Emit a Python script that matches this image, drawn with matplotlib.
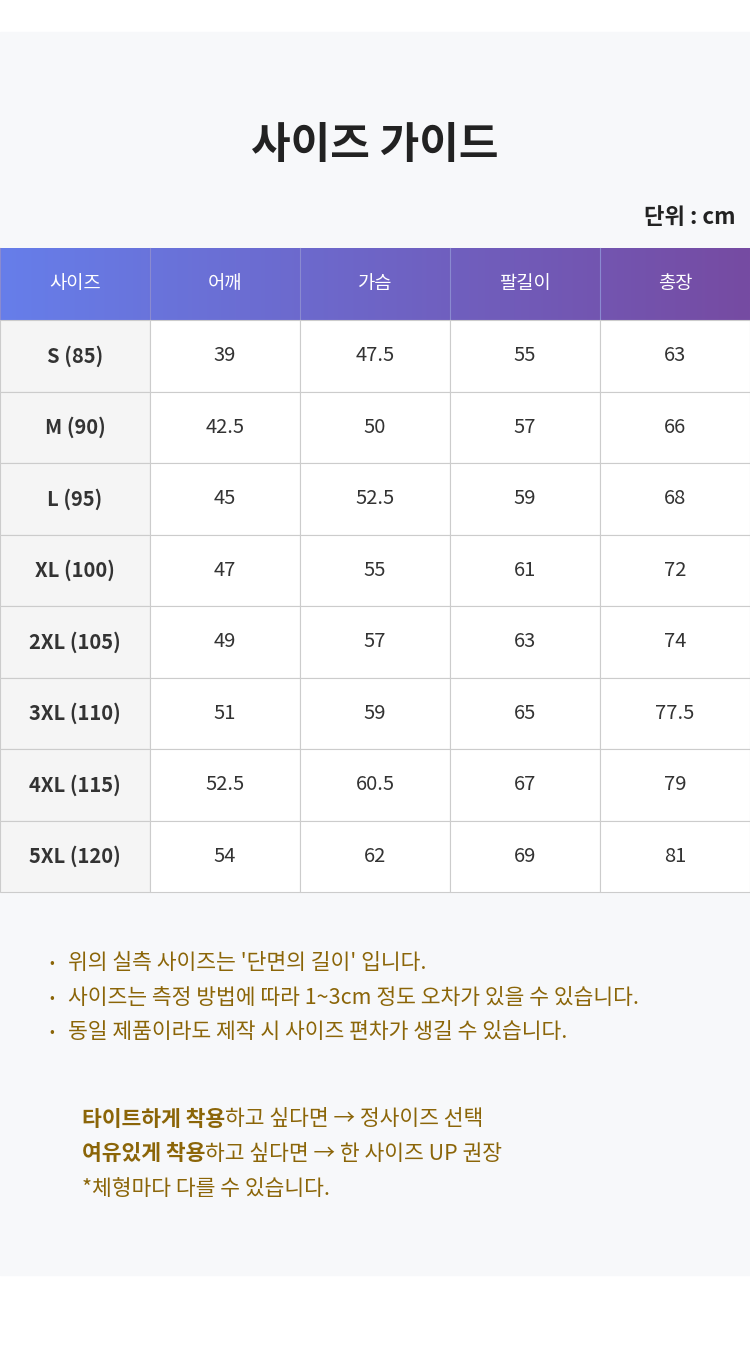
import numpy as np
import matplotlib.pyplot as plt
from matplotlib.colors import LinearSegmentedColormap

plt.rcParams['font.family'] = ['Noto Sans CJK KR', 'DejaVu Sans']

headers = ['사이즈', '어깨', '가슴', '팔길이', '총장']
sizes = ['S (85)', 'M (90)', 'L (95)', 'XL (100)', '2XL (105)', '3XL (110)', '4XL (115)', '5XL (120)']
shoulder = ['39', '42.5', '45', '47', '49', '51', '52.5', '54']
chest = ['47.5', '50', '52.5', '55', '57', '59', '60.5', '62']
sleeve = ['55', '57', '59', '61', '63', '65', '67', '69']
length = ['63', '66', '68', '72', '74', '77.5', '79', '81']
notes = ["위의 실측 사이즈는 '단면의 길이' 입니다.",
         "사이즈는 측정 방법에 따라 1~3cm 정도 오차가 있을 수 있습니다.",
         "동일 제품이라도 제작 시 사이즈 편차가 생길 수 있습니다."]

W, H = 750, 1360
fig = plt.figure(figsize=(7.5, 13.6), dpi=100)
ax = fig.add_axes([0, 0, 1, 1])
ax.set_xlim(0, W)
ax.set_ylim(H, 0)
ax.axis('off')

ax.add_patch(plt.Rectangle((0, 32), W, 1243, color='#f7f8fa', zorder=0))
ax.text(375, 145, '사이즈 가이드', ha='center', va='center', fontsize=31, fontweight='bold', color='#222222')
ax.text(735, 218, '단위 : cm', ha='right', va='center', fontsize=16, fontweight='bold', color='#222222')

top, hh, rh, cw = 248, 72, 71.5, 150
cmap = LinearSegmentedColormap.from_list('g', ['#667eea', '#764ba2'])
ax.imshow(np.linspace(0, 1, 256)[None, :], cmap=cmap, aspect='auto',
          extent=(0, W, top + hh, top), zorder=1)
for j, h in enumerate(headers):
    ax.text(cw * j + cw / 2, top + hh / 2, h, ha='center', va='center', fontsize=13.5, color='white', zorder=3)
    ax.plot([cw * j, cw * j], [top, top + hh], color='#8a8ad0', lw=0.8, zorder=2)

cols = [sizes, shoulder, chest, sleeve, length]
body = top + hh
for i in range(len(sizes)):
    y0 = body + i * rh
    for j, col in enumerate(cols):
        fc = '#f5f5f5' if j == 0 else 'white'
        ax.add_patch(plt.Rectangle((cw * j, y0), cw, rh, facecolor=fc, edgecolor='#cccccc', lw=0.8, zorder=2))
        ax.text(cw * j + cw / 2, y0 + rh / 2, col[i], ha='center', va='center', fontsize=14.5,
                fontweight='bold' if j == 0 else 'normal', color='#333333', zorder=3)

nc = '#8b6508'
for k, n in enumerate(notes):
    y = 963 + k * 34.5
    ax.text(52, y, '•', ha='center', va='center', fontsize=10, color=nc)
    ax.text(68, y, n, ha='left', va='center', fontsize=15.5, color=nc)

tips = [('타이트하게 착용', '하고 싶다면 → 정사이즈 선택'),
        ('여유있게 착용', '하고 싶다면 → 한 사이즈 UP 권장')]
fig.canvas.draw()
r = fig.canvas.get_renderer()
for k, (b, t) in enumerate(tips):
    y = 1119 + k * 35
    tb = ax.text(82, y, b, ha='left', va='center', fontsize=15.5, fontweight='bold', color=nc)
    bb = tb.get_window_extent(r)
    ax.text(82 + bb.width, y, t, ha='left', va='center', fontsize=15.5, color=nc)
ax.text(82, 1189, '*체형마다 다를 수 있습니다.', ha='left', va='center', fontsize=15.5, color=nc)

fig.savefig('out.png', dpi=100)
